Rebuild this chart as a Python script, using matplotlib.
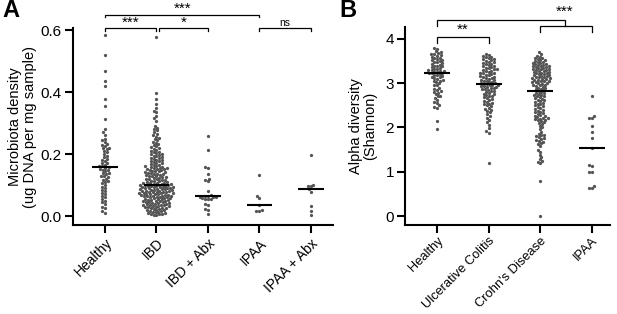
import numpy as np
import matplotlib
matplotlib.use("Agg")
import matplotlib.pyplot as plt

plt.rcParams['font.family'] = ['Liberation Sans', 'DejaVu Sans']

# ---------------- Data ----------------
catsA = ["Healthy", "IBD", "IBD + Abx", "IPAA", "IPAA + Abx"]
a_healthy = [0.585, 0.52, 0.468, 0.435, 0.42, 0.378, 0.355, 0.312, 0.28, 0.27, 0.262, 0.25,
             0.245, 0.24, 0.232, 0.228, 0.225, 0.22, 0.218, 0.215, 0.21, 0.205, 0.2, 0.195,
             0.19, 0.185, 0.18, 0.178, 0.172, 0.17, 0.165, 0.162, 0.16, 0.158, 0.155, 0.153,
             0.15, 0.148, 0.145, 0.14, 0.138, 0.135, 0.13, 0.128, 0.125, 0.12, 0.117, 0.113,
             0.11, 0.105, 0.1, 0.095, 0.09, 0.085, 0.08, 0.075, 0.07, 0.065, 0.06, 0.055, 0.05,
             0.045, 0.04, 0.03, 0.025, 0.015, 0.01]
a_ibd = [0.577, 0.397, 0.378, 0.36, 0.347, 0.34, 0.335, 0.322, 0.315, 0.308, 0.29, 0.285, 0.28,
         0.276, 0.27,
         0.265, 0.26, 0.256, 0.252, 0.248, 0.244, 0.24, 0.236, 0.232, 0.228, 0.225, 0.222, 0.219,
         0.216, 0.213, 0.21, 0.207, 0.205, 0.203, 0.201,
         0.199, 0.197, 0.195, 0.193, 0.19, 0.188, 0.186, 0.184, 0.182, 0.18, 0.178, 0.176, 0.174,
         0.172, 0.17, 0.168, 0.166, 0.164, 0.162, 0.16, 0.159, 0.158, 0.156, 0.155, 0.154, 0.153,
         0.152, 0.151,
         0.149, 0.148, 0.146, 0.145, 0.144, 0.142, 0.141, 0.14, 0.138, 0.137, 0.136, 0.134, 0.133,
         0.132, 0.13, 0.129, 0.128, 0.126, 0.125, 0.124, 0.122, 0.121, 0.12, 0.118, 0.117, 0.116,
         0.114, 0.113, 0.112, 0.11, 0.109, 0.108, 0.107, 0.106, 0.105, 0.104, 0.103, 0.102, 0.101,
         0.1,
         0.1, 0.099, 0.098, 0.098, 0.097, 0.096, 0.095, 0.094, 0.094, 0.093, 0.092, 0.091, 0.09,
         0.09, 0.089, 0.088, 0.087, 0.086, 0.086, 0.085, 0.084, 0.083, 0.082, 0.082, 0.081, 0.08,
         0.079, 0.078, 0.078, 0.077, 0.076, 0.075, 0.074, 0.074, 0.073, 0.072, 0.071, 0.07, 0.07,
         0.069, 0.068, 0.067, 0.066, 0.066, 0.065, 0.064, 0.063, 0.062, 0.062, 0.061, 0.06, 0.059,
         0.058, 0.057, 0.056, 0.055, 0.054, 0.053, 0.052, 0.051,
         0.05, 0.049, 0.048, 0.047, 0.046, 0.045, 0.044, 0.043, 0.042, 0.041, 0.04, 0.039, 0.038,
         0.037, 0.036, 0.035, 0.034, 0.033, 0.032, 0.031, 0.03, 0.029, 0.028, 0.027, 0.026, 0.025,
         0.024, 0.022, 0.021, 0.02, 0.018, 0.017, 0.016, 0.014, 0.013, 0.012, 0.01, 0.009, 0.008,
         0.006, 0.005, 0.004, 0.003]
a_ibd_abx = [0.259, 0.212, 0.158, 0.156, 0.135, 0.121, 0.117, 0.112, 0.082, 0.068, 0.066, 0.064,
             0.062, 0.062, 0.06, 0.058, 0.056, 0.055, 0.054, 0.04, 0.037, 0.022, 0.018, 0.005]
a_ipaa = [0.132, 0.063, 0.057, 0.036, 0.018, 0.017, 0.016]
a_ipaa_abx = [0.197, 0.1, 0.098, 0.096, 0.086, 0.078, 0.033, 0.017, 0.004]
groupsA = [a_healthy, a_ibd, a_ibd_abx, a_ipaa, a_ipaa_abx]

catsB = ["Healthy", "Ulcerative Colitis", "Crohn's Disease", "IPAA"]
b_healthy = [3.8, 3.78, 3.72, 3.7, 3.68, 3.66, 3.65, 3.63, 3.62, 3.6, 3.58, 3.57, 3.55, 3.53,
             3.52, 3.5, 3.48, 3.47, 3.45, 3.44, 3.42, 3.4, 3.39, 3.38, 3.36, 3.35, 3.33, 3.32,
             3.3, 3.29, 3.28, 3.27, 3.26, 3.25, 3.24, 3.23, 3.22, 3.2, 3.19, 3.18, 3.16, 3.15,
             3.13, 3.12, 3.1, 3.08, 3.06, 3.05, 3.03, 3.0, 2.96, 2.95, 2.9, 2.88, 2.85, 2.82,
             2.8, 2.78, 2.75, 2.72, 2.7, 2.67, 2.62, 2.58, 2.55, 2.5, 2.47, 2.45, 2.15, 1.97]
b_uc = [3.66, 3.64, 3.62, 3.6, 3.59, 3.57, 3.55, 3.54, 3.52, 3.5, 3.49, 3.47, 3.46, 3.44, 3.43,
        3.41, 3.4, 3.38, 3.37, 3.35, 3.34, 3.32, 3.31, 3.3, 3.28, 3.27, 3.26, 3.24, 3.23, 3.22,
        3.2, 3.19, 3.18, 3.16, 3.15, 3.14, 3.12, 3.11, 3.1, 3.08, 3.07, 3.06, 3.05, 3.03, 3.02,
        3.01, 3.0, 2.99, 2.98, 2.97, 2.96, 2.95, 2.94, 2.93, 2.92, 2.91, 2.9, 2.89, 2.88, 2.86,
        2.85, 2.83, 2.82, 2.8, 2.78, 2.76, 2.75, 2.73, 2.71, 2.7, 2.68, 2.66, 2.64, 2.62, 2.6,
        2.58, 2.56, 2.54, 2.52, 2.5, 2.48, 2.45, 2.42, 2.4, 2.37, 2.34, 2.3, 2.26, 2.22, 2.17,
        2.12, 2.06, 1.98, 1.92, 1.88, 1.2]
b_cd = [3.70, 3.66, 3.62, 3.6, 3.58, 3.56, 3.55, 3.53, 3.52, 3.5, 3.49, 3.48, 3.46, 3.45, 3.44,
        3.43, 3.42, 3.41, 3.4, 3.39, 3.38, 3.37, 3.36, 3.35, 3.34, 3.33, 3.32, 3.31, 3.3, 3.29,
        3.28, 3.27, 3.26, 3.25, 3.24, 3.23, 3.22, 3.21, 3.2, 3.19, 3.18, 3.17, 3.16, 3.15, 3.14,
        3.13, 3.12, 3.11, 3.1, 3.09, 3.08, 3.07, 3.06, 3.05, 3.04, 3.03, 3.02, 3.01, 3.0, 2.99,
        2.97, 2.96, 2.95, 2.93, 2.92, 2.9, 2.89, 2.87, 2.86, 2.84, 2.83,
        2.8, 2.79, 2.77, 2.76, 2.74, 2.73, 2.71, 2.7, 2.68, 2.66, 2.65, 2.63, 2.61, 2.6, 2.58,
        2.56, 2.54, 2.52, 2.5, 2.48, 2.46, 2.44, 2.42, 2.4, 2.38, 2.36, 2.34, 2.32, 2.3, 2.28,
        2.26, 2.25, 2.23, 2.22, 2.21, 2.2, 2.19, 2.18, 2.16, 2.14, 2.12, 2.1, 2.07, 2.04, 2.0,
        1.96, 1.9, 1.86, 1.84, 1.82, 1.8, 1.78, 1.76, 1.74, 1.72, 1.7, 1.68, 1.65, 1.62, 1.58,
        1.5, 1.45, 1.38, 1.33, 1.28, 1.25, 1.22, 1.2, 0.8, 0.0]
b_ipaa = [2.71, 2.26, 2.22, 2.22, 2.04, 1.9, 1.76, 1.54, 1.15, 1.13, 1.0, 1.0, 0.68, 0.63, 0.63]
groupsB = [b_healthy, b_uc, b_cd, b_ipaa]

yticksA = [0.0, 0.2, 0.4, 0.6]
ytickLabelsA = ["0.0", "0.2", "0.4", "0.6"]
yticksB = [0, 1, 2, 3, 4]

DOT = "#555555"

fig = plt.figure(figsize=(6.17, 3.14), dpi=100)
W, H = 617.0, 314.0


def add_ax(left, right, top, bottom):
    return fig.add_axes([left / W, (H - bottom) / H, (right - left) / W, (bottom - top) / H])


axA = add_ax(73, 333, 28, 225)
axB = add_ax(405, 610, 27, 225)

axA.set_xlim(-0.62, 4.43)
axA.set_ylim(-0.029, 0.6065)
axB.set_xlim(-0.62, 3.35)
axB.set_ylim(-0.203, 4.27)


def beeswarm(ax, xc, vals, d=2.9):
    T = ax.transData
    pts = T.transform(np.column_stack([np.full(len(vals), xc), np.asarray(vals, float)]))
    order = np.argsort(pts[:, 1])
    placed = []
    offs = np.zeros(len(vals))
    for i in order:
        y = pts[i, 1]
        near = [(px, py) for px, py in placed if abs(py - y) < d]
        cands = [0.0]
        for px, py in near:
            dx = np.sqrt(max(d * d - (py - y) ** 2, 0.0))
            cands += [px + dx, px - dx]
        cands.sort(key=lambda c: (abs(c), c))
        chosen = cands[-1]
        for c in cands:
            if all((c - px) ** 2 + (y - py) ** 2 >= d * d - 1e-6 for px, py in near):
                chosen = c
                break
        placed.append((chosen, y))
        offs[i] = chosen
    xs = T.inverted().transform(np.column_stack([pts[:, 0] + offs, pts[:, 1]]))[:, 0]
    ax.scatter(xs, vals, s=5.5, color=DOT, linewidths=0, zorder=5, clip_on=False)


for ax, groups in ((axA, groupsA), (axB, groupsB)):
    for i, g in enumerate(groups):
        beeswarm(ax, i, g)
        m = np.median(g)
        ax.plot([i - 0.25, i + 0.25], [m, m], color="black", lw=1.5, zorder=6,
                solid_capstyle="butt")

for ax in (axA, axB):
    for s in ("top", "right"):
        ax.spines[s].set_visible(False)
    for s in ("left", "bottom"):
        ax.spines[s].set_linewidth(1.5)
    ax.tick_params(direction="out", length=6, width=1.5, pad=2)
    ax.tick_params(axis="y", labelsize=11)

axA.set_xticks(range(len(catsA)))
axA.set_xticklabels(catsA, rotation=45, ha="right", rotation_mode="anchor", fontsize=10)
axA.set_yticks(yticksA)
axA.set_yticklabels(ytickLabelsA)
axA.set_ylabel("Microbiota density\n(ug DNA per mg sample)", fontsize=10.5, labelpad=3,
               linespacing=1.05)

axB.set_xticks(range(len(catsB)))
axB.set_xticklabels(catsB, rotation=45, ha="right", rotation_mode="anchor", fontsize=9.3)
axB.tick_params(axis="x", pad=1)
axB.set_yticks(yticksB)
axB.set_ylabel("Alpha diversity\n(Shannon)", fontsize=10.5, labelpad=6, linespacing=1.05)


def py2d(ax, ypx):
    inv = ax.transData.inverted()
    return inv.transform((0, H - ypx))[1]


def bracket(ax, x0, x1, ytop_px, ybot_px, lw=0.9):
    yt = py2d(ax, ytop_px)
    yb = py2d(ax, ybot_px)
    ax.plot([x0, x0, x1, x1], [yb, yt, yt, yb], color="black", lw=lw, clip_on=False,
            solid_joinstyle="miter")


def label(ax, x, ypx, txt, size=10):
    ax.text(x, py2d(ax, ypx), txt, ha="center", va="center", fontsize=size, clip_on=False)


# Panel A brackets
bracket(axA, 0, 1, 28, 31)
label(axA, 0.5, 22.5, "***", size=11)
bracket(axA, 1.06, 2, 28, 31)
label(axA, 1.53, 22.5, "*", size=11)
bracket(axA, 0, 3, 14.5, 17)
label(axA, 1.5, 8.5, "***", size=11)
bracket(axA, 3, 4, 28, 31)
label(axA, 3.5, 23, "ns", size=7.5)

# Panel B brackets
bracket(axB, 0, 1, 36.5, 42.5)
label(axB, 0.5, 29.5, "**", size=11)
bracket(axB, 2, 3, 26, 32)
bracket(axB, 0, 2.48, 20, 26)
label(axB, 2.48, 12, "***", size=11)

fig.text(2 / W, (H - 17) / H, "A", fontsize=17, fontweight="bold", ha="left", va="baseline")
fig.text(339 / W, (H - 17) / H, "B", fontsize=17, fontweight="bold", ha="left", va="baseline")

fig.savefig("out.png", dpi=100)
